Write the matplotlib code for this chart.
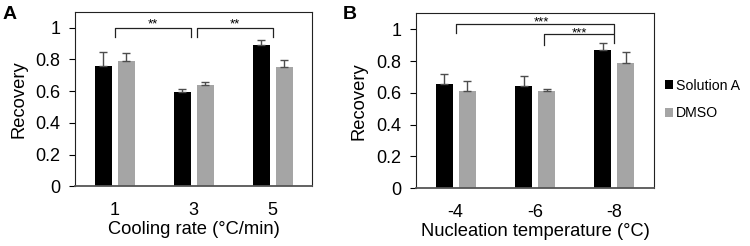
import matplotlib
matplotlib.use("Agg")
import matplotlib.pyplot as plt
import numpy as np

plt.rcParams['font.family'] = ['Liberation Sans', 'DejaVu Sans']

# Panel A data
rates = ["1", "3", "5"]
a_solution = [0.757, 0.594, 0.890]
a_solution_err = [0.088, 0.017, 0.032]
a_dmso = [0.788, 0.638, 0.750]
a_dmso_err = [0.053, 0.017, 0.043]

# Panel B data
temps = ["-4", "-6", "-8"]
b_solution = [0.656, 0.645, 0.871]
b_solution_err = [0.061, 0.060, 0.040]
b_dmso = [0.610, 0.610, 0.787]
b_dmso_err = [0.067, 0.017, 0.067]

yticks = [0, 0.2, 0.4, 0.6, 0.8, 1]
ytick_labels = ["0", "0.2", "0.4", "0.6", "0.8", "1"]
series_names = ["Solution A", "DMSO"]

BLACK = "#000000"
GREY = "#a5a5a5"
ERR = "#4d4d4d"

fig = plt.figure(figsize=(7.5, 2.46), dpi=100)
axA = fig.add_axes([0.1004, 0.2419, 0.3160, 0.7106])
axB = fig.add_axes([0.5547, 0.2346, 0.3173, 0.7114])

w = 0.215
off = 0.145


def draw(ax, cats, s1, e1, s2, e2, xlabel):
    x = np.arange(len(cats))
    b1 = ax.bar(x - off, s1, w, color=BLACK, label=series_names[0], zorder=2)
    b2 = ax.bar(x + off, s2, w, color=GREY, label=series_names[1], zorder=2)
    ax.errorbar(x - off, s1, yerr=[np.zeros(len(e1)), e1], fmt='none',
                ecolor=ERR, elinewidth=1.0, capsize=3, capthick=1.0, zorder=3)
    ax.errorbar(x + off, s2, yerr=[np.zeros(len(e2)), e2], fmt='none',
                ecolor=ERR, elinewidth=1.0, capsize=3, capthick=1.0, zorder=3)
    ax.set_xlim(-0.5, len(cats) - 0.5)
    ax.set_ylim(0, 1.1)
    ax.set_yticks(yticks)
    ax.set_yticklabels(ytick_labels, fontsize=13)
    ax.set_xticks(x)
    ax.set_xticklabels(cats, fontsize=13)
    ax.tick_params(axis='x', length=0, pad=11.5)
    ax.tick_params(axis='y', length=4, width=0.8, direction='out', pad=6.5)
    for s in ['top', 'right', 'left']:
        ax.spines[s].set_linewidth(0.8)
        ax.spines[s].set_color('#222222')
    ax.spines['bottom'].set_linewidth(1.3)
    ax.spines['bottom'].set_color('#555555')
    ax.set_xlabel(xlabel, fontsize=13.2, labelpad=1)
    ax.set_ylabel("Recovery", fontsize=13.2, labelpad=6)
    return b1, b2


def bracket(ax, x1, x2, y, h1, h2, text, ty, tx=None):
    ax.plot([x1, x1, x2, x2], [y - h1, y, y, y - h2], color='#222222', lw=0.9,
            zorder=4, clip_on=False)
    if tx is None:
        tx = (x1 + x2) / 2
    ax.text(tx, ty, text, ha='center', va='center', fontsize=9.5)


draw(axA, rates, a_solution, a_solution_err, a_dmso, a_dmso_err,
     "Cooling rate (°C/min)")
b1, b2 = draw(axB, temps, b_solution, b_solution_err, b_dmso, b_dmso_err,
              "Nucleation temperature (°C)")

bracket(axA, 0.0, 0.97, 1.0, 0.06, 0.06, "**", 1.02)
bracket(axA, 1.04, 2.0, 1.0, 0.06, 0.06, "**", 1.02)
bracket(axB, 0.0, 2.0, 1.035, 0.06, 0.06, "***", 1.044, tx=1.08)
bracket(axB, 1.11, 2.0, 0.967, 0.065, 0.055, "***", 0.975)

fig.text(0.003, 0.975, "A", fontsize=14, fontweight='bold', va='top', ha='left')
fig.text(0.457, 0.975, "B", fontsize=14, fontweight='bold', va='top', ha='left')

fig.legend(handles=[b1, b2], labels=series_names, loc='center left',
           bbox_to_anchor=(0.886, 0.595), frameon=False, fontsize=10.2,
           handlelength=0.6, handleheight=0.6, handletextpad=0.2,
           labelspacing=0.95, borderaxespad=0, borderpad=0)

fig.savefig("out.png", dpi=100)
